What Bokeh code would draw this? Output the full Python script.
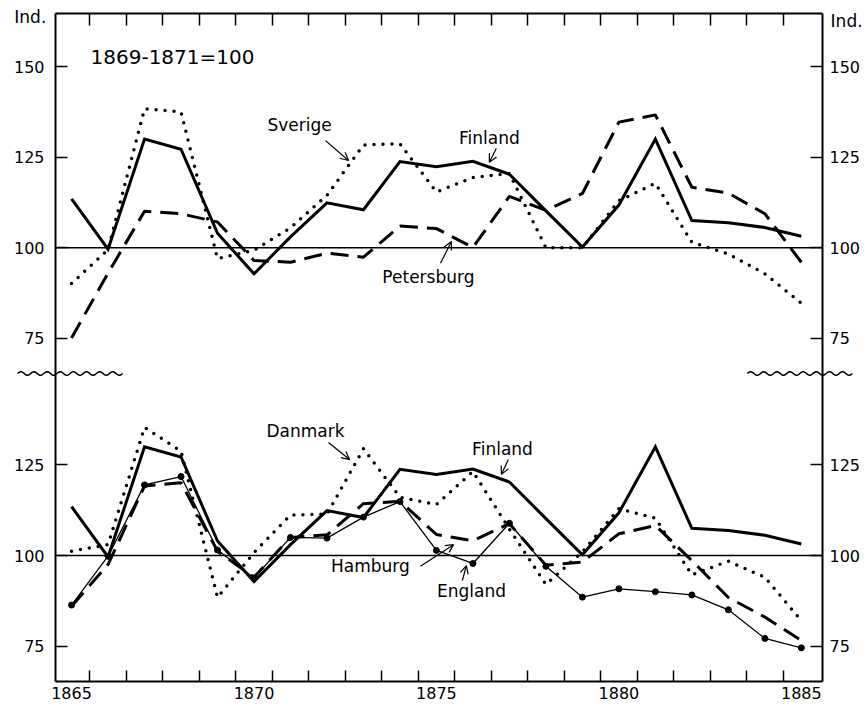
import numpy as np
from bokeh.plotting import figure
from bokeh.models import Range1d, FixedTicker, LinearAxis, Label, Arrow, OpenHead, Span
from bokeh.core.properties import value
from bokeh.embed import file_html
from bokeh.resources import INLINE

# ---------------- data ----------------
years = list(range(1865, 1886))

# upper panel
finland = [113.5, 99.6, 130.0, 127.2, 104.0, 92.8, 103.0, 112.4, 110.5, 123.8, 122.4,
           123.9, 120.3, 110.2, 100.2, 111.8, 130.0, 107.5, 106.9, 105.6, 103.2]
sverige = [90.1, 99.5, 138.4, 137.5, 97.0, 99.3, 105.5, 114.5, 128.4, 128.7, 115.4,
           119.4, 120.5, 100.0, 100.0, 113.0, 117.8, 101.5, 98.3, 92.8, 84.7]
petersburg = [75.1, 93.0, 110.1, 109.4, 107.1, 96.5, 96.0, 98.5, 97.4, 106.0, 105.3,
              100.1, 114.2, 110.3, 115.0, 134.7, 136.7, 116.7, 115.1, 109.4, 96.0]

# lower panel (Finland repeated)
danmark = [101.2, 103.0, 135.4, 128.8, 88.4, 100.8, 111.2, 111.4, 129.5, 116.1, 114.1,
           123.2, 107.3, 92.0, 101.0, 112.9, 110.3, 94.7, 98.4, 94.0, 82.0]
hamburg = [86.0, 97.5, 119.2, 120.1, 101.2, 94.0, 105.0, 105.7, 114.3, 115.0, 105.8,
           104.1, 108.8, 97.3, 98.2, 106.0, 108.3, 98.6, 88.4, 83.0, 76.5]
england = [86.3, 99.8, 119.5, 121.8, 101.5, 93.8, 105.0, 104.8, 110.6, 114.9, 101.4,
           97.8, 108.9, 97.0, 88.5, 90.8, 90.0, 89.1, 85.0, 77.1, 74.5]

x_tick_labels = [1865, 1870, 1875, 1880, 1885]
y_ticks_lower = [75, 100, 125]
y_ticks_upper = [75, 100, 125, 150]
base_value = 100

# ---------------- layout ----------------
FONT = "DejaVu Sans"
OFFSET = 85                    # vertical shift of the upper panel on the shared axis
Y0, Y1 = 65.2, 249.7

p = figure(width=868, height=709, output_backend="svg", toolbar_location=None,
           x_range=Range1d(1864.56, 1885.58), y_range=Range1d(Y0, Y1),
           x_axis_location=None, y_axis_location=None,
           min_border_left=55, min_border_right=46, min_border_top=13, min_border_bottom=28)
p.extra_y_ranges = {"top": Range1d(Y0 - OFFSET, Y1 - OFFSET)}
p.grid.grid_line_color = None
p.outline_line_color = None
p.background_fill_color = "white"
p.border_fill_color = "white"

minor = [y + 0.5 for y in years[:-1]]


def style_axis(ax):
    ax.axis_line_width = 2
    ax.axis_line_color = "black"
    ax.major_tick_line_width = 1.5
    ax.minor_tick_line_width = 1.5
    ax.major_tick_line_color = "black"
    ax.minor_tick_line_color = "black"
    ax.major_label_text_font = FONT
    ax.major_label_text_font_size = "16px"
    ax.major_label_text_color = "black"


bottom = LinearAxis(ticker=FixedTicker(ticks=x_tick_labels, minor_ticks=minor))
style_axis(bottom)
bottom.major_tick_in = 0
bottom.major_tick_out = 0
bottom.minor_tick_in = 11
bottom.minor_tick_out = 0
bottom.major_label_standoff = 5
p.add_layout(bottom, "below")

top = LinearAxis(ticker=FixedTicker(ticks=[], minor_ticks=minor))
style_axis(top)
top.major_tick_in = 0
top.major_tick_out = 0
top.minor_tick_in = 12
top.minor_tick_out = 0
p.add_layout(top, "above")

y_positions = y_ticks_lower + [t + OFFSET for t in y_ticks_upper]
overrides = {t: str(t) for t in y_ticks_lower}
overrides.update({t + OFFSET: str(t) for t in y_ticks_upper})

for side, standoff in (("left", 11), ("right", 7)):
    ax = LinearAxis(ticker=FixedTicker(ticks=y_positions), major_label_overrides=overrides)
    style_axis(ax)
    ax.major_tick_in = 12
    ax.major_tick_out = 0
    ax.minor_tick_in = 0
    ax.minor_tick_out = 0
    ax.major_label_standoff = standoff
    p.add_layout(ax, side)

# base lines at 100
p.add_layout(Span(location=base_value, dimension="width", y_range_name="top",
                  line_color="black", line_width=1.5))
p.add_layout(Span(location=base_value, dimension="width",
                  line_color="black", line_width=1.5))

# ---------------- series ----------------
solid = dict(line_color="black", line_width=3, line_join="miter")
dotted = dict(line_color="black", line_width=3.5, line_dash="0 9", line_cap="round")
dashed = dict(line_color="black", line_width=3, line_dash="18 9")

# upper panel
p.line(years, petersburg, y_range_name="top", **dashed)
p.line(years, sverige, y_range_name="top", **dotted)
p.line(years, finland, y_range_name="top", **solid)

# lower panel
p.line(years, hamburg, **dashed)
p.line(years, danmark, **dotted)
p.line(years, england, line_color="black", line_width=1.3)
p.scatter(years, england, size=6, color="black")
p.line(years, finland, **solid)

# ---------------- break marks ----------------
y_break = Y0 + (Y1 - Y0) * (681 - 373) / 668.0
for x_start, x_end in ((1863.52, 1866.4), (1883.52, 1886.4)):
    xs = np.linspace(x_start, x_end, 90)
    ys = y_break + 0.5 * np.sin((xs - x_start) / 0.36 * 2 * np.pi)
    p.line(xs, ys, line_color="black", line_width=1.5, level="overlay")

# ---------------- texts ----------------
def label(x, y, text, rng=None, align="center", size="17px"):
    kw = dict(x=x, y=y, text=text, text_align=align, text_baseline="middle",
              text_font=FONT, text_font_size=size, text_color="black")
    if rng:
        kw["y_range_name"] = rng
    p.add_layout(Label(**kw))


def arrow(x0, y0, x1, y1, rng=None):
    kw = dict(x_start=x0, y_start=y0, x_end=x1, y_end=y1, line_width=1.2,
              line_color="black", end=OpenHead(size=8, line_width=1.2, line_color="black"))
    if rng:
        kw["y_range_name"] = rng
    p.add_layout(Arrow(**kw))


# unit labels outside the frame (drawn on the overlay level so they are not clipped)
p.text(x=[1863.87, 1886.24], y=[163.8, 162.6], text=["Ind.", "Ind."],
       y_range_name="top", level="overlay", text_align="center", text_baseline="middle",
       text_font=value(FONT), text_font_size="17px", text_color="black")

label(1865.52, 152.6, "1869-1871=100", "top", align="left", size="20px")

label(1871.25, 133.8, "Sverige", "top")
arrow(1871.96, 129.6, 1872.59, 124.1, "top")
label(1876.45, 130.4, "Finland", "top")
arrow(1876.64, 127.4, 1876.45, 123.6, "top")
label(1874.78, 91.8, "Petersburg", "top")
arrow(1875.11, 95.7, 1875.41, 101.7, "top")

label(1871.41, 134.5, "Danmark")
arrow(1872.04, 131.2, 1872.62, 126.5)
label(1876.81, 129.3, "Finland")
arrow(1876.97, 126.5, 1876.78, 122.4)
label(1873.19, 97.2, "Hamburg")
arrow(1874.56, 97.0, 1875.47, 103.0)
label(1875.96, 90.3, "England")
arrow(1875.71, 93.1, 1875.82, 97.2)

open("out.html", "w").write(file_html(p, INLINE))
